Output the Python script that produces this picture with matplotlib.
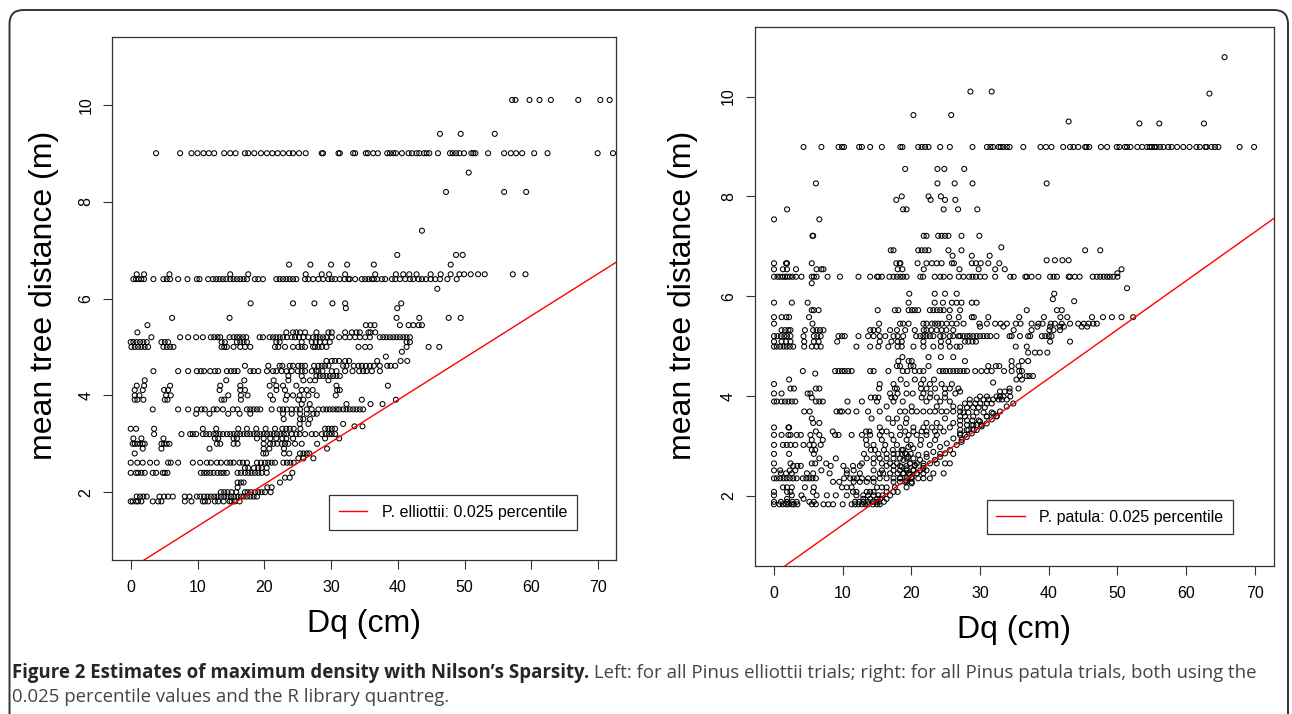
import matplotlib
matplotlib.use('Agg')
import matplotlib.pyplot as plt
from matplotlib.patches import FancyBboxPatch
from matplotlib.transforms import IdentityTransform

plt.rcParams['font.family'] = ['Liberation Sans', 'DejaVu Sans']

# P. elliottii: mean tree distance levels (m) and the Dq values (cm) read on each level
ell_levels = [10.1, 9.4, 9.0, 8.6, 8.2, 7.4, 6.9, 6.7, 6.5, 6.4, 6.2, 5.9, 5.8, 5.6, 5.45, 5.3,
              5.2, 5.1, 5.0, 4.9, 4.8, 4.71, 4.61, 4.5, 4.4, 4.31, 4.2, 4.11, 4.0, 3.91, 3.82,
              3.71, 3.62, 3.51, 3.41, 3.36, 3.31, 3.2, 3.11, 3.0, 2.9, 2.8, 2.7, 2.61, 2.5,
              2.4, 2.3, 2.2, 2.1, 2.0, 1.91, 1.81]
ell_dq = [
    [57.1, 57.6, 59.7, 61.2, 62.9, 67.0, 70.3, 71.7],
    [46.3, 49.4, 54.5],
    [3.8, 7.4, 9.1, 10.0, 10.9, 11.7, 12.5, 14.0, 14.9, 15.7, 17.1, 17.6, 18.5, 19.5, 20.4, 21.2,
     22.0, 22.8, 23.7, 24.3, 25.2, 26.2, 28.6, 28.8, 31.1, 31.3, 33.3, 33.6, 35.2, 35.5, 36.3, 37.0,
     38.4, 38.8, 39.3, 39.7, 40.6, 41.6, 42.1, 42.8, 43.2, 43.9, 44.3, 44.7, 46.0, 47.8, 48.2, 48.7,
     49.2, 49.9, 51.0, 51.3, 51.6, 53.5, 55.9, 56.9, 57.7, 58.6, 60.4, 62.4, 69.9, 72.2],
    [50.6],
    [47.2, 55.9, 59.2],
    [43.6],
    [39.9, 48.7, 49.7],
    [23.7, 26.9, 30.0, 32.4, 36.4, 47.9],
    [0.9, 2.0, 5.8, 14.9, 17.6, 26.2, 28.6, 29.7, 32.1, 36.6, 39.7, 40.8, 41.7, 42.8, 44.9, 46.4,
     47.9, 49.2, 49.9, 50.9, 52.0, 53.0, 57.2, 59.1],
    [0.4, 0.8, 1.2, 1.6, 2.0, 3.4, 4.9, 5.4, 5.9, 7.1, 8.5, 9.9, 10.3, 11.6, 12.3, 12.8, 13.3, 13.8,
     14.3, 14.9, 15.4, 15.9, 16.4, 16.9, 17.4, 18.6, 19.1, 19.8, 21.8, 22.3, 22.8, 23.3, 23.8, 24.3,
     24.8, 26.1, 26.6, 27.3, 28.1, 28.8, 29.6, 30.1, 30.6, 31.3, 32.0, 32.6, 32.8, 33.6, 34.6, 35.1,
     35.6, 36.1, 36.4, 36.9, 37.6, 38.1, 39.1, 39.6, 40.3, 41.1, 41.8, 42.3, 43.1, 43.6, 44.2, 44.9,
     45.6, 46.3, 47.4, 48.8],
    [45.9],
    [17.95, 24.3, 27.5, 30.2, 32.1, 40.5],
    [32.2, 39.9],
    [6.2, 14.8, 39.8, 43.2, 47.6, 49.4],
    [2.5, 35.2, 35.9, 36.5, 40.3, 41.6, 42.3, 43.1, 43.6],
    [1.0, 23.3, 24.3, 24.8, 25.35, 26.1, 27.8, 29.6, 30.1, 32.1, 33.1, 33.8, 34.3, 35.6, 35.9, 36.6],
    [3.1, 7.4, 8.6, 9.8, 10.8, 12.0, 12.5, 13.0, 13.4, 14.8, 15.4, 15.9, 16.3, 16.8, 17.3, 19.3, 19.8,
     20.8, 21.3, 21.8, 22.3, 22.8, 23.4, 24.1, 24.6, 25.2, 25.85, 26.6, 27.3, 27.8, 28.3, 28.8, 29.3,
     30.1, 31.2, 32.1, 32.8, 33.6, 34.3, 35.1, 35.8, 37.3, 37.8, 38.3, 38.8, 39.3, 39.8, 40.3, 40.8,
     41.3, 41.8],
    [0.0, 0.4, 0.9, 1.4, 1.9, 2.4, 4.6, 5.1, 5.6, 13.6, 14.1, 15.9, 16.4, 16.9, 17.4, 21.8, 22.3, 25.6,
     27.1, 27.7, 28.3, 29.1, 29.8, 41.3, 41.8],
    [0.1, 0.6, 1.1, 1.6, 2.1, 2.6, 4.9, 5.4, 5.9, 6.4, 13.6, 14.0, 14.4, 15.4, 16.4, 17.1, 17.9, 21.6,
     22.1, 23.1, 24.3, 25.1, 25.6, 26.1, 27.3, 27.6, 28.1, 28.6, 29.3, 34.1, 35.1, 35.8, 41.3, 44.6, 46.2],
    [40.6],
    [38.2],
    [29.3, 30.1, 30.6, 31.2, 32.1, 32.7, 36.9, 40.4, 41.4],
    [17.1, 20.6, 22.3, 22.7, 23.8, 24.3, 25.1, 25.6, 26.1, 27.45, 28.1, 28.6, 29.1, 29.6, 31.8, 32.3,
     33.4, 34.1, 34.6, 35.2, 35.8, 36.4, 37.3, 38.4, 38.9, 39.6],
    [3.4, 7.1, 8.6, 9.9, 10.5, 11.0, 11.9, 12.6, 13.1, 14.4, 15.0, 15.5, 16.0, 17.9, 18.4, 19.1, 20.4,
     21.3, 21.8, 22.6, 23.3, 24.1, 25.0, 25.6, 26.1, 27.1, 27.8, 28.1, 28.7, 30.1, 30.8, 32.1, 33.2,
     34.2, 34.8, 35.3, 36.1, 37.3],
    [23.6, 25.6, 27.8, 28.3, 28.8, 29.3, 29.8, 30.3, 30.8, 31.3],
    [2.1, 14.3, 17.0, 21.4, 23.6, 25.85, 26.85, 27.6, 29.6],
    [0.9, 2.0, 5.9, 13.4, 16.4, 20.8, 21.8, 22.8, 24.8, 30.8, 38.5],
    [0.6, 1.8, 5.0, 5.6, 13.3, 16.4, 17.1, 21.8, 23.1, 25.6, 26.35, 27.25, 30.9, 31.3],
    [0.6, 1.3, 5.3, 6.0, 14.6, 16.5, 17.5, 20.9, 23.4, 24.3, 25.3, 26.6, 27.85, 30.7],
    [0.6, 1.0, 1.9, 5.1, 5.5, 13.6, 14.0, 16.5, 21.3, 23.2, 25.1, 25.85, 34.6, 39.7],
    [25.6, 26.8, 32.3, 35.9, 37.7],
    [3.3, 7.1, 8.6, 9.9, 10.6, 11.1, 12.4, 12.9, 13.8, 15.3, 16.0, 17.4, 17.9, 18.4, 18.9, 19.4, 21.1,
     22.3, 22.8, 23.4, 24.1, 24.8, 25.35, 26.35, 27.1, 28.1, 28.8, 29.3, 29.8, 30.3, 30.8, 31.2, 31.8,
     32.3, 32.8, 33.3, 33.8, 34.3, 34.8],
    [9.8, 11.8, 14.6, 16.3, 17.9, 22.8, 24.1, 25.35, 26.35, 27.35, 27.85],
    [22.9, 25.35, 25.85, 26.85],
    [25.3, 26.6, 31.8],
    [33.5, 34.7],
    [0.0, 0.8, 3.5, 10.8, 12.8, 16.1, 17.4, 18.8, 20.2, 21.6, 22.7, 23.3, 23.8, 24.4, 25.4, 29.1, 29.6,
     30.1, 30.6],
    [3.5, 7.6, 8.9, 9.3, 9.8, 10.8, 11.3, 11.8, 12.4, 12.8, 13.3, 13.8, 14.4, 14.9, 15.4, 15.9, 16.4,
     16.9, 17.4, 17.9, 18.4, 18.9, 19.4, 19.9, 20.4, 20.9, 21.4, 21.9, 22.4, 22.9, 23.3, 24.1, 24.8,
     25.3, 26.1, 27.1, 27.7, 28.6, 29.2, 29.7, 30.1, 30.6],
    [0.4, 1.6, 4.9, 12.6, 13.1, 15.4, 15.9, 18.9, 19.9, 20.9, 21.8, 22.7, 23.3, 24.3, 29.1, 31.2],
    [0.3, 0.6, 1.0, 1.4, 1.8, 2.1, 4.6, 5.0, 5.4, 5.8, 12.9, 13.4, 15.4, 16.0, 19.9, 20.85, 21.35,
     21.95, 22.6, 23.1, 23.6, 24.6, 25.6, 27.9],
    [1.8, 4.6, 11.8, 19.9, 20.75, 22.95, 29.4],
    [0.6, 19.85, 20.25, 22.95, 23.74, 25.35, 25.85, 26.35, 26.75],
    [25.1, 25.85, 27.35],
    [0.0, 1.0, 1.8, 2.9, 3.9, 5.6, 6.0, 7.1, 9.3, 10.4, 11.4, 12.0, 12.9, 13.5, 14.4, 14.9, 15.4, 16.3,
     16.8, 17.4, 18.9, 19.5, 20.1, 20.6, 21.1, 21.6, 22.85, 23.4, 23.9, 24.4],
    [17.1, 17.6, 18.45, 19.1, 19.6, 20.35],
    [0.0, 0.8, 1.1, 1.6, 2.1, 3.3, 3.8, 4.8, 5.1, 5.5, 10.5, 11.0, 11.4, 11.9, 12.4, 13.0, 13.5, 13.9,
     14.4, 16.0, 16.5, 17.1, 17.6, 18.1, 18.6, 19.1, 19.6, 20.35, 24.2],
    [23.1, 23.8],
    [16.0, 16.5, 16.9, 22.35],
    [16.0, 20.45, 21.1],
    [13.5, 14.0, 14.5, 15.1, 15.8, 17.1, 17.5, 18.0, 18.6, 19.1, 19.6, 20.1, 20.95],
    [0.9, 1.4, 1.9, 2.4, 4.3, 5.0, 5.6, 6.3, 8.1, 8.8, 9.9, 10.4, 11.0, 11.5, 12.0, 12.5, 13.0, 13.5,
     14.0, 14.5, 15.0, 15.5, 16.0, 16.5, 16.9, 17.4, 17.9, 18.4, 18.9],
    [0.0, 0.3, 0.8, 1.1, 1.6, 3.3, 4.1, 4.6, 8.1, 9.1, 10.8, 11.1, 11.6, 12.6, 13.1, 13.9, 14.8, 15.1,
     15.6, 16.3],
]

# P. patula: same layout
pat_levels = [10.79, 10.1, 10.06, 9.63, 9.5, 9.46, 8.99, 8.55, 8.26, 8.0, 7.93, 7.74, 7.54, 7.21,
              6.98, 6.92, 6.81, 6.72, 6.66, 6.54, 6.46, 6.39, 6.26, 6.16, 6.05, 5.94, 5.9, 5.87,
              5.72, 5.58, 5.45, 5.39, 5.32, 5.2, 5.09, 4.99, 4.87, 4.78, 4.7, 4.6, 4.5, 4.45, 4.4,
              4.33, 4.27, 4.24, 4.15, 4.09, 4.05, 3.99, 3.97, 3.93, 3.89, 3.85, 3.79, 3.77, 3.69,
              3.67, 3.59, 3.55, 3.51, 3.46, 3.42, 3.37, 3.32, 3.29, 3.22, 3.12, 3.08, 3.02, 2.92,
              2.84, 2.75, 2.65, 2.6, 2.51, 2.45, 2.35, 2.28, 2.17, 2.08, 2.01, 1.94, 1.88, 1.83]
pat_dq = [
    [65.6],
    [28.6, 31.7],
    [63.4],
    [20.3, 25.8],
    [42.9],
    [53.2, 56.1, 62.6],
    [4.3, 6.9, 9.4, 9.9, 10.2, 12.4, 12.8, 14.0, 15.7, 18.4, 18.7, 21.0, 21.5, 22.0, 22.5, 24.2, 25.6,
     28.9, 31.0, 31.5, 31.9, 32.7, 33.0, 33.4, 33.9, 34.3, 36.3, 38.8, 39.6, 40.4, 42.1, 43.1, 43.6,
     44.3, 45.3, 45.5, 45.9, 47.6, 48.5, 49.9, 50.3, 51.1, 51.4, 51.9, 52.9, 53.6, 54.3, 54.7, 55.0,
     55.4, 55.7, 56.2, 56.7, 57.4, 57.9, 58.7, 59.6, 60.5, 61.5, 62.0, 62.8, 63.0, 63.7, 64.2, 64.7,
     67.8, 69.9],
    [19.1, 23.8, 24.8, 27.7],
    [6.1, 23.8, 26.3, 28.9, 39.7],
    [18.6, 22.5, 24.3],
    [17.8, 22.8, 24.9, 26.4],
    [1.9, 18.8, 19.3, 24.7, 26.8, 29.6],
    [0.0, 6.6],
    [5.6, 5.7, 21.8, 22.2, 23.9, 24.4, 24.9, 25.4, 27.3, 29.9],
    [33.1],
    [17.0, 17.4, 21.0, 21.5, 22.0, 22.5, 25.4, 27.3, 45.3, 47.5],
    [26.0, 28.8, 31.4],
    [39.7, 40.9, 42.0, 42.9],
    [0.0, 1.75, 1.9, 5.5, 17.8, 18.3, 18.4, 20.9, 22.2, 23.0, 23.7, 24.4, 25.9, 26.2, 28.8, 29.4, 30.1,
     31.2, 32.8],
    [0.0, 1.3, 1.9, 3.2, 6.2, 6.9, 7.2, 18.0, 18.7, 21.8, 27.0, 29.8, 32.2, 33.6, 50.6],
    [50.0],
    [0.0, 0.5, 0.9, 1.3, 1.6, 1.9, 2.3, 2.7, 3.2, 4.0, 5.5, 5.8, 6.2, 7.8, 9.6, 12.3, 14.0, 15.0, 15.2,
     15.7, 16.8, 17.4, 17.9, 18.4, 18.8, 19.3, 21.3, 21.7, 23.4, 24.2, 24.7, 25.6, 26.9, 27.6, 28.4,
     28.9, 29.4, 30.0, 30.7, 32.2, 34.4, 34.9, 36.6, 36.8, 37.5, 38.5, 40.2, 40.7, 41.2, 42.9, 43.1,
     43.8, 44.5, 46.4, 47.0, 47.5, 48.0, 48.5, 48.9, 49.4, 50.0],
    [5.5],
    [51.4],
    [19.7, 23.4, 24.9, 26.6, 40.8],
    [40.6],
    [43.7],
    [0.0, 2.6, 4.9, 19.6, 23.4, 24.6, 25.9, 26.6, 27.3, 28.8, 29.5],
    [5.5, 5.8, 6.5, 15.1, 17.6, 18.1, 19.6, 20.1, 20.5, 21.0, 22.7, 23.2, 23.7, 24.2, 24.7, 25.6, 27.1,
     36.8, 41.2, 41.9],
    [0.0, 1.1, 1.8, 2.2, 5.1, 25.5, 26.9, 28.8, 29.1, 31.2, 35.7, 39.3, 41.7, 42.7, 46.3, 47.9, 49.2,
     50.6, 52.3],
    [0.0, 5.6, 15.3, 18.35, 18.8, 19.6, 21.75, 22.2, 23.0, 23.45, 23.9, 24.4, 25.15, 25.9, 26.6, 27.6,
     29.9, 31.0, 32.2, 33.0, 33.9, 35.2, 35.9, 37.5, 38.5, 39.1, 40.3, 40.9, 41.9, 43.1, 44.3, 45.1,
     45.8, 46.5, 47.0],
    [30.0, 33.4, 38.35, 40.2, 41.65, 42.2, 44.8, 45.6],
    [1.1, 1.6, 2.1, 2.4, 4.5, 5.7, 6.2, 6.7, 7.2, 14.0, 14.5, 15.2, 16.9, 17.9, 19.1, 20.5, 21.8, 22.2,
     22.9, 23.7, 24.4, 25.1, 26.1, 34.9, 37.5, 40.1, 40.7, 41.65],
    [0.0, 0.5, 1.0, 1.5, 1.9, 2.4, 4.3, 5.8, 6.3, 6.8, 9.4, 9.9, 10.3, 12.3, 13.7, 14.5, 15.4, 16.2,
     17.4, 18.0, 18.8, 20.7, 21.3, 21.75, 22.2, 22.7, 23.2, 24.2, 24.7, 25.6, 26.1, 26.85, 27.1, 27.6,
     28.1, 28.5, 29.0, 29.5, 30.0, 30.5, 31.0, 31.5, 32.4, 34.3, 34.6, 35.8, 37.0, 37.3, 39.0, 39.5,
     40.0, 40.4],
    [0.0, 1.1, 1.75, 2.4, 4.4, 5.8, 6.5, 9.2, 15.4, 17.1, 18.0, 18.6, 21.75, 24.3, 25.4, 27.8, 28.3,
     28.9, 29.4, 40.2, 43.1],
    [0.0, 0.4, 0.9, 1.4, 1.85, 2.3, 2.8, 4.4, 5.5, 6.2, 6.8, 12.0, 14.0, 15.2, 16.65, 18.0, 18.6, 20.3,
     21.75, 23.2, 24.3, 25.6, 26.6, 27.1, 35.2, 36.8],
    [37.0, 38.0, 38.7, 39.8],
    [18.7, 22.5, 24.3, 26.1],
    [18.1, 19.6, 20.05, 27.8, 34.6, 36.1, 37.0],
    [17.9, 18.35, 19.9, 20.3, 22.5, 31.2, 32.3, 32.8, 34.6, 35.6],
    [4.2, 8.9, 9.4, 9.9, 10.3, 10.8, 11.3, 14.0, 14.5, 16.65, 18.75, 19.4, 20.5, 21.2, 21.75, 24.1,
     24.6, 25.05, 25.6, 26.1, 26.6, 27.1, 27.6, 28.1, 29.3, 30.2, 31.0, 31.7, 33.5, 34.6, 35.7, 36.1],
    [6.0],
    [35.8, 36.8, 37.2, 37.7],
    [2.2, 18.45, 20.5, 21.75, 23.3, 35.3, 36.1],
    [31.9],
    [0.0, 15.4, 17.4, 19.3, 21.4, 22.7, 24.4, 25.9],
    [2.4, 2.9, 6.1, 6.6, 15.3, 17.6, 17.9, 21.4, 22.2, 23.45, 24.9, 25.6, 26.85, 34.3, 35.6],
    [27.1, 32.9, 33.6, 34.3],
    [0.0, 1.1, 4.9, 5.3, 16.9, 18.0, 19.3, 20.2, 21.75, 22.8, 24.9, 26.4],
    [30.0, 31.0, 32.4, 32.9, 33.4, 34.4],
    [5.5, 14.1, 14.7, 15.2, 17.1, 17.6, 21.5, 22.7, 23.7, 24.9],
    [28.5, 29.5, 30.5, 31.2, 31.9, 32.7, 33.2, 33.9],
    [0.0, 0.4, 1.1, 1.6, 2.1, 2.6, 3.1, 6.1, 6.6, 7.1, 10.7, 12.8, 15.0, 17.4, 18.75, 22.2, 24.2, 25.6],
    [27.8, 28.5, 29.3, 30.0, 31.0, 31.7],
    [16.4, 20.05, 23.7, 26.1],
    [27.1, 28.1, 29.0, 29.8, 30.7],
    [4.4, 5.2, 9.1, 9.6, 9.9, 10.8, 12.0, 13.7, 15.4, 18.35, 19.1, 20.05, 20.8, 21.75, 22.7, 23.45,
     24.4, 25.15, 26.1, 27.1],
    [27.6, 28.3, 29.5, 30.5, 31.7],
    [27.1, 27.8, 29.0, 31.0, 32.4],
    [5.5, 14.2, 16.65, 17.9, 19.3, 24.9],
    [27.1, 28.1, 28.9, 29.8],
    [5.7, 6.6, 17.3, 19.2, 22.2, 23.7, 26.1],
    [27.1, 28.1, 28.8, 29.5, 30.2],
    [0.0, 2.1, 2.2, 15.4, 18.35, 20.3, 21.75, 23.0, 24.2, 25.6],
    [27.1, 28.3, 29.1],
    [6.1, 8.55, 13.4, 13.9, 15.7, 16.4, 19.1, 20.3, 21.5, 22.2, 23.45, 24.7],
    [0.0, 1.1, 2.1, 2.4, 3.3, 3.9, 5.3, 6.6, 8.9, 9.4, 11.3, 12.8, 14.0, 15.4, 17.1, 18.35, 19.6, 20.8,
     22.2, 23.7, 27.1, 27.8],
    [5.5, 7.1, 13.4, 15.7, 17.4, 19.3, 21.4, 23.45],
    [27.3],
    [0.0, 1.3, 1.85, 2.4, 3.1, 4.3, 5.15, 5.8, 6.8, 13.5, 14.5, 16.2, 17.9, 19.9, 21.3, 22.7],
    [5.5, 6.0, 14.1, 14.7, 16.0, 17.3, 18.8],
    [0.0, 2.2, 5.8, 13.1, 15.2, 16.4, 17.4, 18.0, 18.6, 19.3, 19.9, 22.2, 24.2, 26.1],
    [6.6, 9.0, 13.5, 14.5, 15.4, 16.4, 17.4, 18.35, 19.3, 20.3],
    [0.0, 2.4, 5.5, 6.0, 7.6, 12.8, 14.5, 15.7, 16.9, 17.9, 19.8, 20.8, 21.75, 23.7, 24.9, 25.6],
    [2.8, 3.4, 3.9, 8.25, 10.1, 11.5, 12.5, 16.4, 17.4, 18.35, 19.3, 20.5, 21.75],
    [0.0, 0.9, 2.3, 3.1, 6.9, 10.6, 11.6, 14.5, 15.7, 17.4, 18.35, 19.3, 20.3, 21.3, 22.2],
    [1.0, 1.75, 2.6, 4.8, 5.7, 8.1, 10.6, 12.5, 15.4, 15.9, 16.9, 18.0, 18.8, 19.6, 20.8, 21.75, 23.2,
     24.7],
    [0.0, 0.4, 0.9, 1.4, 1.85, 2.3, 2.8, 3.3, 4.2, 4.7, 5.15, 5.6, 6.1, 10.2, 11.1, 11.6, 12.1, 12.8,
     13.7, 14.5, 15.4, 16.4, 17.4, 18.35, 19.3, 20.05, 21.0, 21.75, 22.7],
    [8.6, 9.5, 11.6, 12.5, 13.5, 14.5, 17.4, 18.35, 19.3, 20.05],
    [1.3, 1.9, 2.6, 4.5, 5.8, 9.9, 10.6, 11.3, 15.0, 15.7, 16.4, 17.6, 19.3],
    [0.0, 1.9, 2.4, 5.7, 11.5, 12.0, 13.5, 14.0, 14.5, 16.4, 17.4, 18.0],
    [0.0, 2.6, 4.0, 6.2, 7.7, 9.0, 10.6, 12.0, 13.0, 13.7, 14.5, 15.2, 15.8, 16.9],
    [1.9, 4.3, 13.0, 14.0, 15.0, 15.5, 16.4],
    [0.0, 1.0, 1.9, 2.7, 3.3, 5.15, 5.8, 11.8, 12.4, 13.0, 13.7, 14.4, 14.9, 15.3, 16.0],
    [0.0, 0.8, 1.3, 1.75, 2.1, 2.6, 2.9, 3.4, 5.5, 6.1, 7.2, 7.9, 8.6, 10.0, 11.3, 11.8, 12.3, 12.8,
     13.3, 13.7, 14.4, 15.0, 15.4],
]

# P. patula: points crowding the lower edge (not on the regular levels)
pat_edge_dq = [19.32, 20.05, 20.78, 21.75, 22.72, 23.45, 24.18, 24.9, 25.63, 26.6, 27.33, 28.06,
               28.79, 29.52, 30.24, 30.97, 31.7, 32.43,
               21.26, 22.23, 23.2, 24.18, 25.15, 26.12, 27.09, 28.06, 29.03, 30.0, 30.97, 31.94,
               32.91, 33.88, 34.85,
               18.59, 19.08, 19.56, 18.84, 19.81, 18.59, 19.32, 20.29, 18.84, 19.81, 18.35, 19.08,
               20.05, 20.53, 21.02, 20.29, 19.56]
pat_edge_dist = [2.31, 2.38, 2.45, 2.55, 2.65, 2.72, 2.78, 2.85, 2.92, 3.02, 3.12, 3.18,
                 3.25, 3.32, 3.39, 3.45, 3.53, 3.60,
                 2.72, 2.78, 2.88, 2.98, 3.05, 3.15, 3.25, 3.32, 3.42, 3.49, 3.59, 3.65,
                 3.69, 3.79, 3.85,
                 2.92, 2.85, 2.78, 2.72, 2.65, 2.58, 2.55, 2.52, 2.45, 2.42, 2.35, 2.28,
                 2.25, 2.62, 2.82, 2.95, 2.98]

# 0.025 quantile lines: intercept, slope
ell_line = (0.426, 0.0870)
pat_line = (0.440, 0.0978)

x_ticks = [0, 10, 20, 30, 40, 50, 60, 70]
y_ticks = [2, 4, 6, 8, 10]

W, H = 1292, 714
fig = plt.figure(figsize=(W / 100, H / 100), dpi=100)


def flatten(levels, rows):
    xs, ys = [], []
    for lev, row in zip(levels, rows):
        xs += row
        ys += [lev] * len(row)
    return xs, ys


def panel(rect, x, y, line, label, xlim, leg_anchor):
    ax = fig.add_axes(rect)
    ax.scatter(x, y, s=13, facecolors='none', edgecolors='black', linewidths=0.75, zorder=2)
    a, b = line
    ax.axline((0, a), slope=b, color='red', lw=1.0, label=label, zorder=3)
    ax.set_xlim(*xlim)
    ax.set_ylim(0.6, 11.4)
    ax.set_xticks(x_ticks)
    ax.set_yticks(y_ticks)
    ax.tick_params(length=6.5, width=0.8, labelsize=11.5, color='#333333')
    ax.tick_params(axis='x', pad=8)
    ax.tick_params(axis='y', pad=7, labelrotation=90)
    for t in ax.get_yticklabels():
        t.set_va('center')
    for s in ax.spines.values():
        s.set_linewidth(0.9)
        s.set_color('#333333')
    leg = ax.legend(loc='lower right', bbox_to_anchor=leg_anchor, fontsize=11.5,
                    frameon=True, fancybox=False, edgecolor='#333333', framealpha=1,
                    borderaxespad=0, borderpad=0.6, handlelength=1.8, handletextpad=0.9)
    leg.get_frame().set_linewidth(0.9)
    return ax


ex, ey = flatten(ell_levels, ell_dq)
px, py = flatten(pat_levels, pat_dq)
px += pat_edge_dq
py += pat_edge_dist

panel([112 / W, 1 - 560 / H, 504 / W, 523 / H], ex, ey, ell_line,
      'P. elliottii: 0.025 percentile', (-2.8, 72.65), (0.922, 0.058))
panel([754.7 / W, 1 - 565.7 / H, 519.3 / W, 539 / H], px, py, pat_line,
      'P. patula: 0.025 percentile', (-2.81, 72.8), (0.921, 0.058))

# axis titles
fig.text(364 / W, 1 - 631.7 / H, 'Dq (cm)', fontsize=23, ha='center', va='baseline')
fig.text(1014.4 / W, 1 - 638.4 / H, 'Dq (cm)', fontsize=23, ha='center', va='baseline')
fig.text(44 / W, 1 - 295 / H, 'mean tree distance (m)', fontsize=23, rotation=90,
         ha='center', va='center')
fig.text(683 / W, 1 - 295 / H, 'mean tree distance (m)', fontsize=23, rotation=90,
         ha='center', va='center')

# rounded frame around the figure
frame = FancyBboxPatch((9.5, -40), 1278.5, 744, boxstyle='round,pad=0,rounding_size=14',
                       transform=IdentityTransform(), fill=False, lw=1.4, ec='#333333')
fig.add_artist(frame)

# caption, fitted to the line width of the original
cap_bold = 'Figure 2 Estimates of maximum density with Nilson\u2019s Sparsity.'
cap_rest = ' Left: for all Pinus elliottii trials; right: for all Pinus patula trials, both using the'
cap_line2 = '0.025 percentile values and the R library quantreg.'
cap_font = ['Open Sans', 'DejaVu Sans']
t1 = fig.text(12 / W, 1 - 678 / H, cap_bold, fontweight='bold', family=cap_font,
              color='#262626', va='baseline')
t2 = fig.text(0.5, 1 - 678 / H, cap_rest, family=cap_font, color='#444444', va='baseline')
t3 = fig.text(12 / W, 1 - 702 / H, cap_line2, family=cap_font, color='#444444', va='baseline')
renderer = fig.canvas.get_renderer()
size = 11.5
for _ in range(3):
    for t in (t1, t2, t3):
        t.set_fontsize(size)
    e1 = t1.get_window_extent(renderer)
    t2.set_x(e1.x1 / W)
    e2 = t2.get_window_extent(renderer)
    size *= (1253 - 12) / (e2.x1 - 12)

fig.savefig('out.png', dpi=100)
